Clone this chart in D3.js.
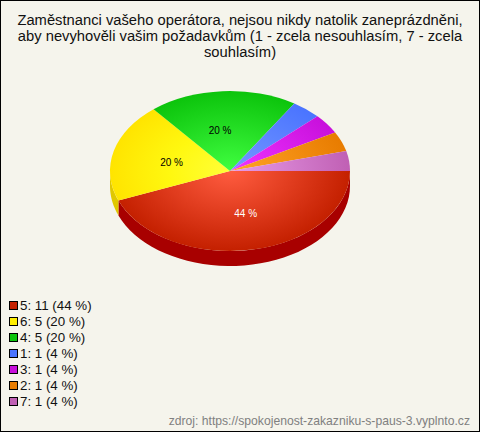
<!DOCTYPE html>
<html>
<head>
<meta charset="utf-8">
<script src="https://cdn.jsdelivr.net/npm/d3@7"></script>
<style>
html,body{margin:0;padding:0;background:#f5f4ec}
svg{display:block}
text{font-family:"Liberation Sans",Arial,sans-serif}
</style>
</head>
<body>
<div id="chart"></div>
<script>
const categories = ["5","6","4","1","3","2","7"];
const values = [11,5,5,1,1,1,1];
const percents = [44,20,20,4,4,4,4];
const titleLines = [
  "Zaměstnanci vašeho operátora, nejsou nikdy natolik zaneprázdněni,",
  "aby nevyhověli vašim požadavkům (1 - zcela nesouhlasím, 7 - zcela",
  "souhlasím)"
];
const source = "zdroj: https://spokojenost-zakazniku-s-paus-3.vyplnto.cz";
const baseColors = ["#c42000","#ffe400","#0cc40c","#4a74ff","#c810dc","#e87c00","#c060b4"];
const midColors = ["#e23e20","#fff810","#26e026","#5f86ff","#dc22ee","#f49014","#d47ece"];
const centerColors = ["#ff5c40","#ffff38","#40ff40","#7498ff","#f034ff","#ffa428","#e89ce8"];
const sideColors = ["#a80000","#e0c800","#0a9a0a","#3a5ad0","#a00cb0","#c06400","#a04c94"];
const legendColors = ["#c42000","#ffee00","#0cc40c","#4a74ff","#c810dc","#e87c00","#c060b4"];

const W = 480, H = 432, cx = 230, cy = 171, rx = 120, ry = 80, depth = 15;
const svg = d3.select("#chart").append("svg").attr("width",W).attr("height",H);
svg.append("rect").attr("x",0.5).attr("y",0.5).attr("width",W-1).attr("height",H-1)
   .attr("fill","#f5f4ec").attr("stroke","#000").attr("stroke-width",1);

const pie = d3.pie().sort(null).value(d=>d).startAngle(Math.PI/2).endAngle(Math.PI*2.5);
const arcs = pie(values);
const arc = d3.arc().innerRadius(0).outerRadius(1);
const sx = d3.scaleLinear().domain([-1,1]).range([cx-rx,cx+rx]);
const sy = d3.scaleLinear().domain([-1,1]).range([cy-ry,cy+ry]);

const defs = svg.append("defs");
arcs.forEach((a,i)=>{
  const g = defs.append("radialGradient").attr("id","g"+i)
    .attr("gradientUnits","userSpaceOnUse").attr("cx",0).attr("cy",0).attr("r",1);
  g.append("stop").attr("offset","0%").attr("stop-color",centerColors[i]);
  g.append("stop").attr("offset","50%").attr("stop-color",midColors[i]);
  g.append("stop").attr("offset","100%").attr("stop-color",baseColors[i]);
});

// side wall: front half only, d3 angle a => screen (sin a, -cos a)
const side = svg.append("g");
const wall = d3.line();
arcs.forEach((a,i)=>{
  const s = Math.max(a.startAngle, Math.PI/2), e = Math.min(a.endAngle, Math.PI*1.5);
  if (e <= s) return;
  const angs = d3.range(0,41).map(k=>s+(e-s)*k/40);
  const top = angs.map(t=>[sx(Math.sin(t)),sy(-Math.cos(t))]);
  const bot = angs.slice().reverse().map(t=>[sx(Math.sin(t)),sy(-Math.cos(t))+depth]);
  side.append("path").attr("d",wall(top.concat(bot))+"Z").attr("fill",sideColors[i]);
});

// top face
const face = svg.append("g").attr("transform",`translate(${cx},${cy}) scale(${rx},${ry})`);
face.selectAll("path").data(arcs).join("path")
  .attr("d",arc).attr("fill",(d,i)=>`url(#g${i})`);

// percentage labels for the three large slices
const labelArc = d3.arc().innerRadius(0).outerRadius(1.04);
const labelNudge = [[4,1],[2,1],[-6,1]];
arcs.slice(0,3).forEach((a,i)=>{
  const c = labelArc.centroid(a);
  svg.append("text")
    .attr("x",sx(c[0])+labelNudge[i][0]).attr("y",sy(c[1])+labelNudge[i][1]+4)
    .attr("text-anchor","middle").attr("font-size",10)
    .attr("fill",i===0?"#fff":"#000").text(percents[i]+" %");
});

// title
svg.append("g").selectAll("text").data(titleLines).join("text")
  .attr("x",240).attr("y",(d,i)=>25+i*16).attr("text-anchor","middle")
  .attr("font-size",14.75).attr("fill","#111").text(d=>d);

// legend
const ly = d3.scaleBand().domain(categories).range([296,408]);
const leg = svg.append("g").selectAll("g").data(categories).join("g");
leg.append("rect").attr("x",9.5).attr("y",d=>ly(d)+5.5).attr("width",8).attr("height",8)
  .attr("fill",(d,i)=>legendColors[i]).attr("stroke","#000");
leg.append("text").attr("x",20).attr("y",d=>ly(d)+14).attr("font-size",13.33).attr("fill","#111")
  .text((d,i)=>`${d}: ${values[i]} (${percents[i]} %)`);

// source
svg.append("text").attr("x",470).attr("y",425).attr("text-anchor","end")
  .attr("font-size",12.16).attr("fill","#808080").text(source);
</script>
</body>
</html>
